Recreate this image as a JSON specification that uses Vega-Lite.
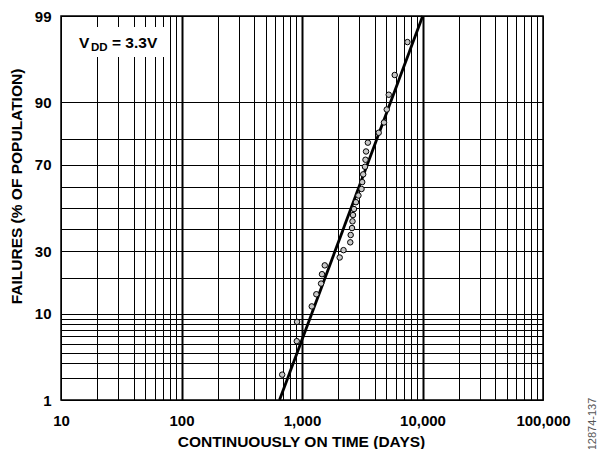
{
  "$schema": "https://vega.github.io/schema/vega-lite/v6.json",
  "width": 482,
  "height": 384,
  "autosize": "none",
  "padding": {"left": 61, "top": 16, "right": 55, "bottom": 49},
  "background": "white",
  "config": {
    "font": "Liberation Sans",
    "view": {"stroke": "black", "strokeWidth": 1.5}
  },
  "encoding": {
    "x": {
      "field": "t",
      "type": "quantitative",
      "scale": {"type": "log", "domain": [10, 100000], "nice": false},
      "axis": {
        "values": [10, 20, 30, 40, 50, 60, 70, 80, 90, 100, 200, 300, 400, 500, 600, 700, 800, 900, 1000, 2000, 3000, 4000, 5000, 6000, 7000, 8000, 9000, 10000, 20000, 30000, 40000, 50000, 60000, 70000, 80000, 90000, 100000],
        "labelExpr": "indexof([10,100,1000,10000,100000], datum.value) >= 0 ? format(datum.value, ',') : ''",
        "ticks": false,
        "domain": false,
        "grid": true,
        "gridColor": "black",
        "gridOpacity": 1,
        "gridWidth": {"condition": {"test": "indexof([100,1000,10000], datum.value) >= 0", "value": 2}, "value": 1},
        "labelFontSize": 15,
        "labelFontWeight": "bold",
        "labelColor": "black",
        "labelPadding": 13,
        "labelFlush": false,
        "labelOverlap": false,
        "title": "CONTINUOUSLY ON TIME (DAYS)",
        "titleFontSize": 15.5,
        "titleFontWeight": "bold",
        "titleColor": "black",
        "titleX": 240,
        "titleY": 41.5,
        "titleBaseline": "middle"
      }
    },
    "y": {
      "field": "p",
      "type": "quantitative",
      "scale": {
        "type": "linear",
        "nice": false,
        "zero": false,
        "domain": [1, 1.5, 2, 3, 4, 5, 6, 7, 8, 9, 10, 12.5, 15, 17.5, 20, 25, 30, 35, 40, 45, 50, 55, 60, 65, 70, 75, 80, 85, 90, 93, 95, 97, 98, 99],
        "range": [384, 371.1, 361.5, 347.2, 336.5, 327.8, 320.3, 313.8, 308.0, 302.7, 297.8, 286.9, 277.5, 269.1, 261.5, 247.7, 235.3, 223.8, 212.9, 202.4, 192.0, 181.6, 171.1, 160.2, 148.7, 136.3, 122.5, 106.5, 86.2, 70.2, 56.2, 36.8, 22.5, 0]
      },
      "axis": {
        "values": [1, 2, 3, 4, 5, 6, 7, 8, 9, 10, 20, 30, 40, 50, 60, 70, 80, 90, 99],
        "format": "d",
        "labelExpr": "indexof([1,10,30,70,90,99], datum.value) >= 0 ? datum.label : ''",
        "ticks": false,
        "domain": false,
        "grid": true,
        "gridColor": "black",
        "gridOpacity": 1,
        "gridWidth": 1,
        "labelFontSize": 15,
        "labelFontWeight": "bold",
        "labelColor": "black",
        "labelPadding": 10,
        "labelOverlap": false,
        "title": "FAILURES (% OF POPULATION)",
        "titleFontSize": 15.5,
        "titleFontWeight": "bold",
        "titleColor": "black",
        "titleX": -44.5,
        "titleY": 170,
        "titleAngle": 270,
        "titleBaseline": "middle"
      }
    }
  },
  "layer": [
    {
      "data": {"values": [{"t": 10.35, "t2": 73, "p": 96.57, "p2": 98.51}]},
      "mark": {"type": "rect", "fill": "white", "stroke": null},
      "encoding": {
        "x2": {"field": "t2"},
        "y2": {"field": "p2"}
      }
    },
    {
      "data": {"values": [{"t": 14.1, "p": 97.31, "label": "V"}]},
      "mark": {"type": "text", "align": "left", "baseline": "alphabetic", "fontSize": 15.5, "fontWeight": "bold", "color": "black"},
      "encoding": {"text": {"field": "label"}}
    },
    {
      "data": {"values": [{"t": 17.74, "p": 97.15, "label": "DD"}]},
      "mark": {"type": "text", "align": "left", "baseline": "alphabetic", "fontSize": 11.5, "fontWeight": "bold", "color": "black"},
      "encoding": {"text": {"field": "label"}}
    },
    {
      "data": {"values": [{"t": 26.5, "p": 97.31, "label": "= 3.3V"}]},
      "mark": {"type": "text", "align": "left", "baseline": "alphabetic", "fontSize": 15.5, "fontWeight": "bold", "color": "black"},
      "encoding": {"text": {"field": "label"}}
    },
    {
      "data": {"values": [{"t": 651, "p": 1}, {"t": 10040, "p": 99}]},
      "mark": {"type": "line", "color": "black", "strokeWidth": 2.8},
      "encoding": {}
    },
    {
      "data": {"values": [
        {"t": 7500, "p": 97.75},
        {"t": 5880, "p": 94.6},
        {"t": 5250, "p": 91.4},
        {"t": 5050, "p": 88.2},
        {"t": 4790, "p": 85.0},
        {"t": 4330, "p": 81.8},
        {"t": 3520, "p": 78.5},
        {"t": 3400, "p": 75.3},
        {"t": 3365, "p": 72.0},
        {"t": 3330, "p": 69.1},
        {"t": 3220, "p": 65.8},
        {"t": 3160, "p": 62.3},
        {"t": 3120, "p": 59.1},
        {"t": 2940, "p": 56.0},
        {"t": 2805, "p": 52.8},
        {"t": 2700, "p": 49.5},
        {"t": 2650, "p": 46.6},
        {"t": 2625, "p": 43.6},
        {"t": 2600, "p": 40.4},
        {"t": 2535, "p": 37.2},
        {"t": 2515, "p": 33.9},
        {"t": 2210, "p": 30.5},
        {"t": 2055, "p": 27.5},
        {"t": 1545, "p": 24.4},
        {"t": 1465, "p": 21.2},
        {"t": 1440, "p": 18.0},
        {"t": 1315, "p": 14.8},
        {"t": 1205, "p": 11.7},
        {"t": 910, "p": 8.4},
        {"t": 905, "p": 5.35},
        {"t": 685, "p": 2.2}
      ]},
      "mark": {"type": "circle", "size": 30, "fill": "#c8c8c8", "stroke": "black", "strokeWidth": 1, "opacity": 1}
    },
    {
      "data": {"values": [{"t": 262400, "p": 0.07, "label": "12874-137"}]},
      "mark": {"type": "text", "align": "center", "baseline": "middle", "angle": 270, "fontSize": 11, "color": "#555555"},
      "encoding": {"text": {"field": "label"}}
    }
  ]
}
